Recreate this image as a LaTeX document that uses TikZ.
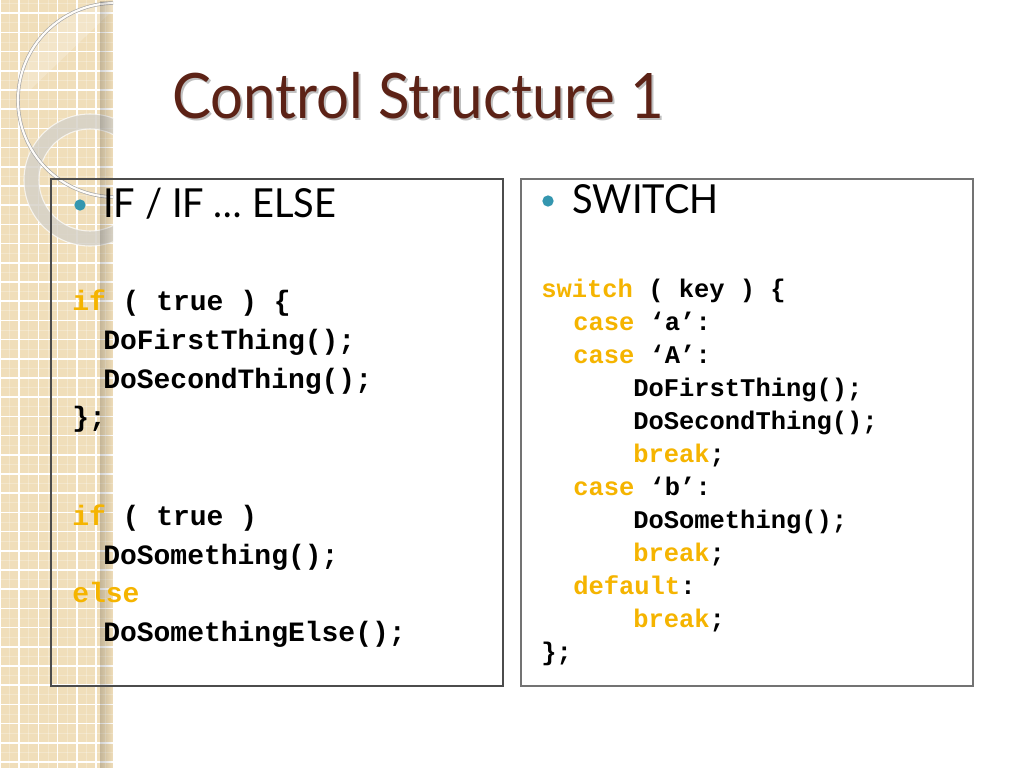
\documentclass[tikz,border=0pt]{standalone}
\usepackage{fontspec}
\setmainfont{Lato}
\newfontfamily\titlefont[FakeStretch=0.93]{Lato}
\newfontfamily\headfont[FakeStretch=0.95]{Lato}
\newfontfamily\codefont{Liberation Mono}
\usetikzlibrary{fadings}
\definecolor{beige}{RGB}{240,222,186}
\definecolor{kw}{RGB}{245,180,0}
\definecolor{titlebrown}{RGB}{92,34,22}
\definecolor{bulletblue}{RGB}{52,150,175}
\definecolor{ringgrey}{RGB}{214,210,200}
\tikzset{
  codeL/.style={anchor=base west, inner sep=0pt, font=\codefont\bfseries\fontsize{21}{21}\selectfont},
  codeR/.style={anchor=base west, inner sep=0pt, font=\codefont\bfseries\fontsize{19.1}{19.1}\selectfont},
  heading/.style={anchor=base west, inner sep=0pt, font=\headfont\fontsize{30}{30}\selectfont},
  panel/.style={draw=black!70, line width=0.9pt},
  bul/.style={circle, fill=bulletblue, inner sep=0pt, minimum size=8.5pt},
}
\begin{document}
\begin{tikzpicture}[x=0.75pt,y=-0.75pt]
\useasboundingbox (0,0) rectangle (1024,768);
\fill[white] (0,0) rectangle (1024,768);
% left strip
\fill[beige] (0,0) rectangle (113,768);
\begin{scope}
\clip (0,0) rectangle (113,768);
\foreach \i in {0,...,6} {
  \draw[white, opacity=0.25, line width=0.5pt] ({9.6+19.2*\i},0) -- ({9.6+19.2*\i},768);
  \draw[white, line width=1.1pt] ({19.2*\i},0) -- ({19.2*\i},768);
}
\foreach \j in {0,...,40} {
  \draw[white, opacity=0.25, line width=0.5pt] (0,{3.6+19.2*\j}) -- (113,{3.6+19.2*\j});
  \draw[white, line width=1.1pt] (0,{13.2+19.2*\j}) -- (113,{13.2+19.2*\j});
}
% light lens in big circle
\begin{scope}
\clip (115,100) circle (97);
\fill[white, opacity=0.22] (0,90) -- (30,90) -- (113,10) -- (113,-10) -- (0,-10) -- cycle;
\end{scope}
% grey ring
\fill[ringgrey, opacity=0.85, even odd rule] (90,180) circle (66) (90,180) circle (51);
\draw[white, opacity=0.7, line width=0.8pt] (90,180) circle (66);
\draw[white, opacity=0.7, line width=0.8pt] (90,180) circle (51);
% big thin circle
\draw[black!35, line width=2.6pt] (115,100) circle (97);
\draw[white!92!beige, line width=1.6pt] (115,100) circle (97);
% shadow at strip edge
\fill[black, opacity=0.18, path fading=east] (100,0) rectangle (113,768);
\end{scope}
% title
\node[anchor=base west, inner sep=0pt, text=black!25, font=\titlefont\fontsize{47}{47}\selectfont] (titleshadow) at (174,120) {Control Structure 1};
\node[anchor=base west, inner sep=0pt, text=titlebrown, font=\titlefont\fontsize{47}{47}\selectfont] (title) at (172,118) {Control Structure 1};
% panels
\draw[panel] (51,179) rectangle (503,686);
\draw[panel, draw=black!55] (521,179) rectangle (973,686);
% left heading
\node[bul] (b1) at (80,205) {};
\node[heading] (h1) at (103,217) {IF / IF … ELSE};
% right heading
\node[bul] (b2) at (548,201) {};
\node[heading] (h2) at (572,213) {SWITCH};
% left code
\node[codeL] (l1) at (72,310) {\textcolor{kw}{if} ( true ) \{};
\node[codeL] (l2) at (103,349) {DoFirstThing();};
\node[codeL] (l3) at (103,388) {DoSecondThing();};
\node[codeL] (l4) at (72,426) {\};};
\node[codeL] (l5) at (72,525) {\textcolor{kw}{if} ( true )};
\node[codeL] (l6) at (103,564) {DoSomething();};
\node[codeL] (l7) at (72,602) {\textcolor{kw}{else}};
\node[codeL] (l8) at (103,641) {DoSomethingElse();};
% right code
\node[codeR] (r1) at (541,297) {\textcolor{kw}{switch} ( key ) \{};
\node[codeR] (r2) at (573,330) {\textcolor{kw}{case} ‘a’:};
\node[codeR] (r3) at (573,363) {\textcolor{kw}{case} ‘A’:};
\node[codeR] (r4) at (633,396) {DoFirstThing();};
\node[codeR] (r5) at (633,429) {DoSecondThing();};
\node[codeR] (r6) at (633,462) {\textcolor{kw}{break};};
\node[codeR] (r7) at (573,495) {\textcolor{kw}{case} ‘b’:};
\node[codeR] (r8) at (633,528) {DoSomething();};
\node[codeR] (r9) at (633,561) {\textcolor{kw}{break};};
\node[codeR] (r10) at (573,594) {\textcolor{kw}{default}:};
\node[codeR] (r11) at (633,627) {\textcolor{kw}{break};};
\node[codeR] (r12) at (541,660) {\};};
\end{tikzpicture}
\end{document}
